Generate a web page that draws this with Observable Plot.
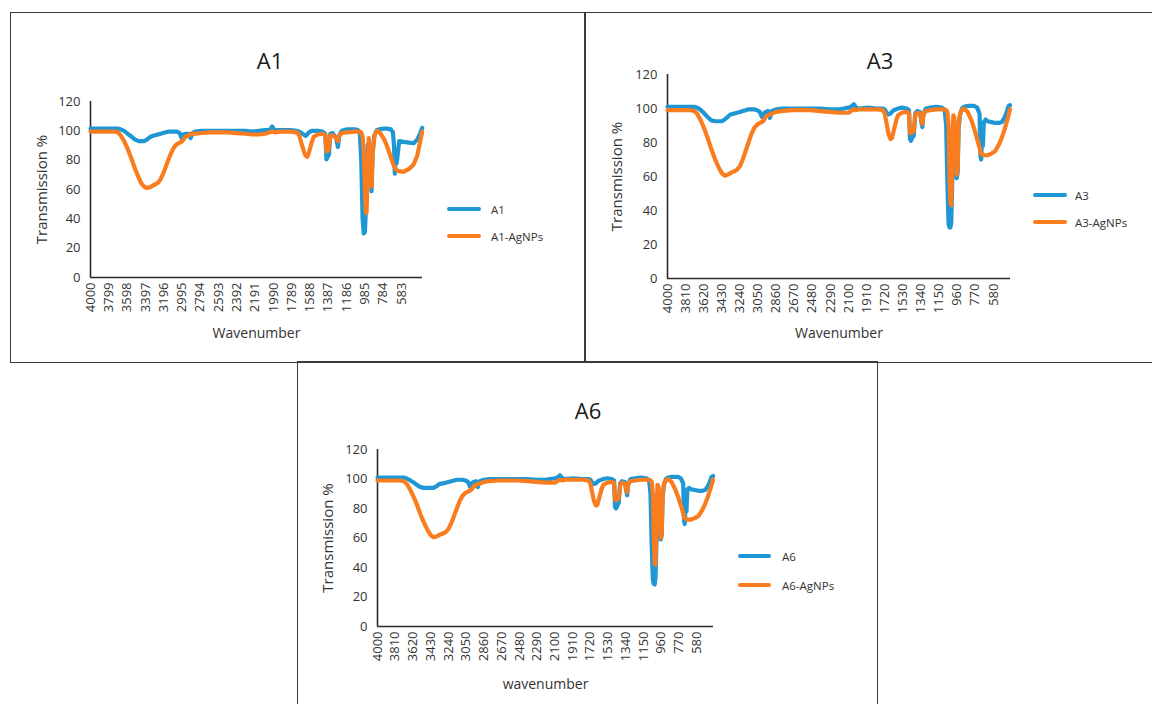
<!DOCTYPE html>
<html><head><meta charset="utf-8">
<script src="https://cdn.jsdelivr.net/npm/d3@7"></script>
<script src="https://cdn.jsdelivr.net/npm/@observablehq/plot@0.6"></script>
<style>
html,body{margin:0;padding:0;background:#fff;}
body{width:1152px;height:704px;overflow:hidden;position:relative;font-family:"Open Sans",sans-serif;}
.box{position:absolute;border:1.5px solid #3a3a3a;box-sizing:border-box;}
.title{position:absolute;font-size:22px;color:#1a1a1a;transform:translate(-50%,-50%);white-space:nowrap;}
.chart{position:absolute;}
.chart svg{overflow:visible;}
.chart svg g[aria-label="x-axis label"]{font-size:14px;}
.chart svg g[aria-label="y-axis label"]{font-size:15px;}
.legtxt{position:absolute;font-size:11.5px;color:#333;transform:translateY(-50%);white-space:nowrap;}
.swatch{position:absolute;height:4px;border-radius:2px;transform:translateY(-50%);}
</style></head><body>
<script>
// ---------- data ----------
const BLUE = "#1f97d4";
const ORANGE = "#f97d1f";
const yTicks = [0, 20, 40, 60, 80, 100, 120];

// A1 panel
const a1Ticks = [4000,3799,3598,3397,3196,2995,2794,2593,2392,2191,1990,1789,1588,1387,1186,985,784,583];
const a1Wn = [
  4000,3900,3740,3700,3670,3630,3590,3550,3510,3470,
  3440,3410,3380,3350,3320,3290,3260,3230,3200,3170,
  3140,3110,3080,3050,3020,3000,2980,2955,2920,2900,
  2880,2850,2780,2700,2593,2500,2400,2300,2223,2150,
  2080,2030,2004,1980,1900,1800,1740,1710,1680,1650,
  1637,1619,1600,1570,1546,1500,1450,1420,1407,1395,
  1380,1365,1340,1300,1282,1265,1240,1180,1100,1060,
  1040,1025,1010,997,985,975,967,955,942,925,
  912,900,880,854,824,780,744,700,677,665,
  656,645,635,608,560,500,450,410,380,355];
const a1 = [
  101.5,101.5,101.5,101.5,101,100,98,96,94,93,
  93,93,94,95.5,96.5,97,97.5,98,98.5,99,
  99.5,99.5,99.5,99.5,98.5,95,97.5,98,98,95,
  98.5,99.5,100,100,100,100,100,100,99.5,100,
  100.5,100.5,103,100.5,100.5,100.5,100,99.5,98.5,97,
  96.5,97.5,99,100,100,100,99.5,98,80.5,82,
  84,98,98.5,95,89,97,100,101,101,100.5,
  98,80,40,30,31,45,75,90,92,70,
  58.8,85,97,100.5,101,101.5,101.5,101,99,90,
  70.8,84,78,93,92.5,92,91.5,94,98,102];
const a1Ag = [
  99.5,99.5,99.5,99,97,93,87.5,81,74,68,
  64,62,61,61.5,62.5,63.5,64.5,67,71,76,
  81,85.5,89,91,92,92.5,94,96,97,97.5,
  98,98,98.5,99,99,99,98.5,98,97.5,97.5,
  98,99,99.5,99,99.5,99.5,99,97.5,91,85,
  83,82.3,85,92,96,97.5,98,97,86,86.5,
  88,97,97,95,93,97,98.5,99,99.5,99.5,
  99.5,99,96,85,60,45,44,70,95,80,
  62,85,97,100,99,95,90,82,78,76,
  75,74,73,72.5,72,74,77,83,92,99.5];

// A3 and A6 panels
const a3Ticks = [4000,3810,3620,3430,3240,3050,2860,2670,2480,2290,2100,1910,1720,1530,1340,1150,960,770,580];
const a3Wn = [
  4000,3900,3760,3720,3690,3660,3620,3580,3540,3500,
  3460,3430,3400,3370,3340,3300,3270,3240,3210,3180,
  3150,3120,3090,3060,3030,3010,2990,2970,2945,2925,
  2905,2860,2800,2700,2600,2500,2400,2300,2200,2150,
  2100,2075,2045,2020,1990,1900,1800,1740,1720,1700,
  1680,1660,1645,1625,1600,1580,1540,1490,1465,1455,
  1445,1430,1415,1400,1380,1350,1335,1325,1315,1290,
  1240,1180,1120,1090,1075,1062,1050,1040,1030,1022,
  1010,1000,990,975,965,955,945,930,910,890,
  850,810,780,750,725,715,708,700,690,680,
  660,640,600,560,520,490,460,440,420,405];
const a3 = [
  101,101,101,101,100.5,99.5,97.5,95,93,92.5,
  92.5,92.5,93.5,95,96.5,97,97.5,98,98.5,99,
  99.5,99.5,99.5,99,98,95,97,98,98.5,94.5,
  98.5,99.5,100,100,100,100,100,99.5,99.5,100,
  100.5,101,102.5,100.5,100,100.5,100,100,99.5,97.5,
  96.5,97,98,99,99.5,100,100.5,100,99,82,
  81,83,84,97,98.5,98,92,89,96,100,
  100.5,101,100.5,99,90,55,32,30,30,33,
  60,90,93,80,59,62,88,96,100,101,
  101.5,101.5,101.5,100.5,97,72,70,82,78,92,
  93.5,92.5,92,91.5,91.5,92,95,98,101.5,102];
const a3Ag = [
  99,99,99,98.5,97,94,89,83,76,70,
  65,62,60.5,61,62,63,64,66,70,75,
  80,85,88.5,90.5,91.5,92,93,95,96,96.5,
  97,98,98.5,99,99,99,98.5,98,97.5,97.5,
  97.5,98.5,99.5,99,99.5,99.5,99.5,99,97,91,
  85,82,82.5,87,93,96,97.5,98,97.5,86,
  85.5,86,87,96,97.5,97,93,91,96.5,98.5,
  99,99.5,99.5,99.5,99,98,90,60,44,43,
  75,96,95,80,61,64,90,97,99,100,
  98,93,88,82,77,74,73.5,73,73,72.5,
  72.5,72.5,73.5,75,79,83,88,92,96,99.5];
const a6Wn = a3Wn;
const a6 = [
  101,101,101,101,100.5,99.5,98,96,94.5,94,
  94,94,94,95,96.5,97,97.5,98,98.5,99,
  99.5,99.5,99.5,99,98,95,97,98,98.5,94.5,
  98.5,99.5,100,100,100,100,100,99.5,99.5,100,
  100.5,101,102.5,100.5,100,100.5,100,100,99.5,97.5,
  96.5,97,98,99,99.5,100,100.5,100,99,81,
  80,82,84,97,98.5,98,92,89,96,100,
  100.5,101,100.5,99,90,55,32,29,28.5,33,
  60,90,93,80,59,62,88,96,100,101,
  101.5,101.5,101.5,100.5,97,71,69.5,82,78,93,
  94,93,92.5,92,92,92.5,95,98,101.5,102];
const a6Ag = [
  99,99,99,98.5,97,94,89,83,76,70,
  65,62,60.5,61,62,63,64,66,70,75,
  80,85,88.5,90.5,91.5,92,93,95,96,96.5,
  97,98,98.5,99,99,99,98.5,98,97.5,97.5,
  97.5,98.5,99.5,99,99.5,99.5,99.5,99,97,91,
  85,82,82.5,87,93,96,97.5,98,97.5,86,
  85.5,86,87,96,97.5,97,93,91,96.5,98.5,
  99,99.5,99.5,99.5,99,98,90,60,43,42,
  75,96,95,80,60,63,90,97,99,100,
  98,93,88,82,77,74,73.5,73,73,72.5,
  72.5,72.5,73.5,75,79,83,88,92,96,99.5];

// ---------- layout helpers ----------
function el(tag, cls, css, text) {
  const e = document.createElement(tag);
  if (cls) e.className = cls;
  Object.assign(e.style, css || {});
  if (text != null) e.textContent = text;
  document.body.appendChild(e);
  return e;
}

// panel frames
el("div", "box", {left: "10px", top: "12px", width: "576px", height: "351px"});
el("div", "box", {left: "584px", top: "12px", width: "580px", height: "351px"});
el("div", "box", {left: "297px", top: "361px", width: "581px", height: "360px"});

function panel(cfg) {
  const d1 = cfg.wn.map((w, i) => ({w, v: cfg.s1[i]}));
  const d2 = cfg.wn.map((w, i) => ({w, v: cfg.s2[i]}));
  const chart = Plot.plot({
    width: cfg.width, height: cfg.height,
    marginLeft: cfg.m[3], marginRight: cfg.m[1], marginTop: cfg.m[0], marginBottom: cfg.m[2],
    style: {fontFamily: "'Open Sans', sans-serif", fontSize: "13px", color: "#333", background: "transparent"},
    x: {domain: [4000, cfg.end]},
    y: {domain: [0, 120]},
    marks: [
      Plot.axisX({ticks: cfg.ticks, tickSize: 0, tickPadding: 5, tickRotate: -90, tickFormat: d => String(d),
        label: cfg.xLabel, labelAnchor: "center", labelArrow: "none"}),
      Plot.axisY({ticks: yTicks, tickSize: 0, tickPadding: 10, tickFormat: d => String(d),
        label: "Transmission %", labelAnchor: "center", labelArrow: "none", labelOffset: cfg.yOff}),
      Plot.ruleY([0], {stroke: "#2a2a2a", strokeWidth: 1.6}),
      Plot.ruleX([4000], {stroke: "#2a2a2a", strokeWidth: 1.6}),
      Plot.line(d1, {x: "w", y: "v", stroke: BLUE, strokeWidth: 4.2, strokeLinejoin: "round", strokeLinecap: "round"}),
      Plot.line(d2, {x: "w", y: "v", stroke: ORANGE, strokeWidth: 4.2, strokeLinejoin: "round", strokeLinecap: "round"})
    ]
  });
  const wrap = el("div", "chart", {left: cfg.left + "px", top: cfg.top + "px"});
  wrap.appendChild(chart);
  el("div", "title", {left: cfg.title[0] + "px", top: cfg.title[1] + "px"}, cfg.name);
  const L = cfg.legend;
  el("div", "swatch", {left: L.x + "px", top: L.y1 + "px", width: L.w + "px", background: BLUE});
  el("div", "swatch", {left: L.x + "px", top: L.y2 + "px", width: L.w + "px", background: ORANGE});
  el("div", "legtxt", {left: L.tx + "px", top: L.y1 + "px"}, cfg.name);
  el("div", "legtxt", {left: L.tx + "px", top: L.y2 + "px"}, cfg.name + "-AgNPs");
}

panel({name: "A1", wn: a1Wn, s1: a1, s2: a1Ag, ticks: a1Ticks, end: 352, xLabel: "Wavenumber",
  left: 30, top: 90, width: 400, height: 250, m: [11, 8, 63, 60], yOff: 54,
  title: [270, 60], legend: {x: 447, w: 34, y1: 209, y2: 236, tx: 491}});
panel({name: "A3", wn: a3Wn, s1: a3, s2: a3Ag, ticks: a3Ticks, end: 400, xLabel: "Wavenumber",
  left: 600, top: 60, width: 420, height: 280, m: [14, 10, 62, 67], yOff: 56,
  title: [880, 60], legend: {x: 1033, w: 34, y1: 195, y2: 222, tx: 1075}});
panel({name: "A6", wn: a6Wn, s1: a6, s2: a6Ag, ticks: a3Ticks, end: 400, xLabel: "wavenumber",
  left: 310, top: 440, width: 410, height: 251, m: [9, 7, 65, 67], yOff: 55,
  title: [588, 410], legend: {x: 738, w: 33, y1: 556, y2: 585, tx: 782}});
</script>
</body></html>
